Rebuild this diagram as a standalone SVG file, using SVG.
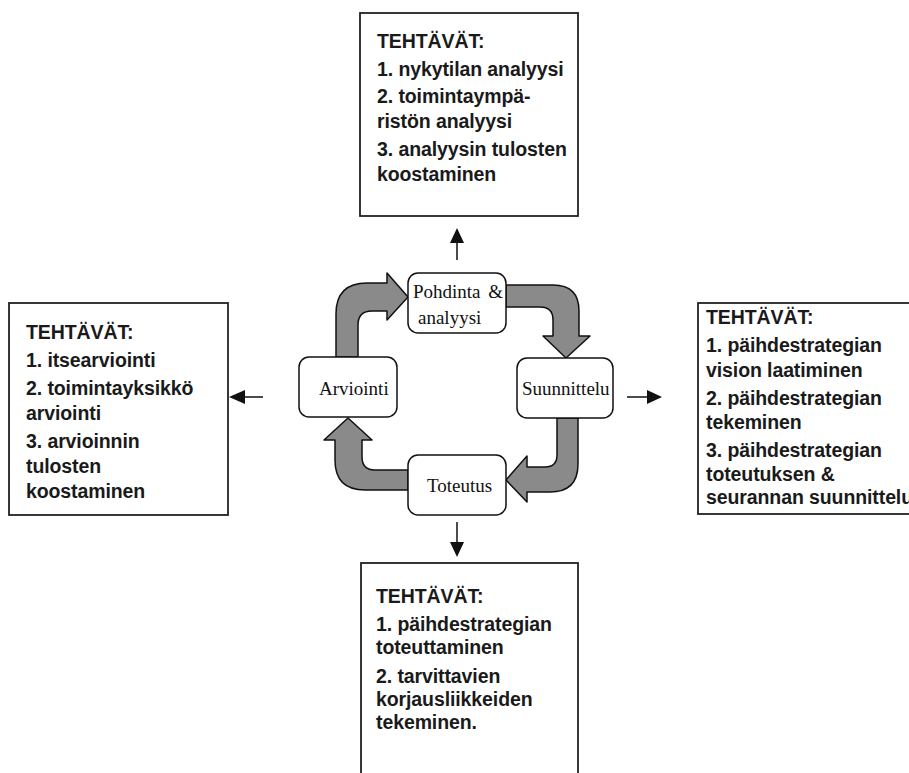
<svg xmlns="http://www.w3.org/2000/svg" width="909" height="773" viewBox="0 0 909 773">
<style>
.box{fill:#fff;stroke:#222;stroke-width:1.8}
.rbox{fill:#fff;stroke:#111;stroke-width:1.5}
.t{font-family:"Liberation Sans",Arial,sans-serif;font-weight:bold;font-size:19.5px;fill:#1a1a1a;letter-spacing:-0.1px}
.s{font-family:"Liberation Serif","Times New Roman",serif;font-size:19px;fill:#111}
.cyc{fill:#8a8a8a;stroke:#111;stroke-width:1.5;stroke-linejoin:round}
.ln{stroke:#111;stroke-width:1.5;fill:none}
.hd{fill:#111}
</style>
<rect width="909" height="773" fill="#fff"/>

<g id="connectors">
  <path class="cyc" d="M336 357 L336 314 Q336 283 367 283 L387 283 L387 273 L408 297 L387 320 L387 311 L372 311 Q358 311 358 325 L358 357 Z"/>
  <path class="cyc" d="M506 285 L553 285 Q579 285 579 311 L579 336 L590 336 L566 358 L543 336 L553 336 L553 320 Q553 307 540 307 L506 307 Z"/>
  <path class="cyc" d="M557 418 L578 418 L578 464 Q578 492 550 492 L527 492 L527 502 L506 480 L527 456 L527 467 L545 467 Q557 467 557 455 Z"/>
  <path class="cyc" d="M408 470 L375 470 Q362 470 362 457 L362 440 L372 440 L348 418 L324 440 L335 440 L335 460 Q335 490 365 490 L408 490 Z"/>
  <line class="ln" x1="457" y1="260" x2="457" y2="242"/>
  <polygon class="hd" points="457,228 450,243 464,243"/>
  <line class="ln" x1="263" y1="397" x2="244" y2="397"/>
  <polygon class="hd" points="229,397 245,390 245,404"/>
  <line class="ln" x1="627" y1="397" x2="648" y2="397"/>
  <polygon class="hd" points="662,397 647,390 647,404"/>
  <line class="ln" x1="457" y1="522" x2="457" y2="543"/>
  <polygon class="hd" points="457,557 450,542 464,542"/>
</g>

<g id="pohdinta">
  <rect class="rbox" x="408" y="273" width="98" height="60" rx="10"/>
  <text class="s" x="413" y="298" word-spacing="3">Pohdinta &amp;</text>
  <text class="s" x="418" y="324">analyysi</text>
</g>
<g id="suunnittelu">
  <rect class="rbox" x="517" y="358" width="96" height="60" rx="10"/>
  <text class="s" x="522" y="395">Suunnittelu</text>
</g>
<g id="toteutus">
  <rect class="rbox" x="408" y="455" width="98" height="60" rx="10"/>
  <text class="s" x="427" y="492">Toteutus</text>
</g>
<g id="arviointi">
  <rect class="rbox" x="299" y="357" width="98" height="60" rx="10"/>
  <text class="s" x="319" y="395">Arviointi</text>
</g>

<g id="tasks-top">
  <rect class="box" x="360" y="13" width="218" height="203"/>
  <text class="t" x="377" y="48">TEHTÄVÄT:</text>
  <text class="t" x="377" y="76">1. nykytilan analyysi</text>
  <text class="t" x="377" y="103">2. toimintaympä-</text>
  <text class="t" x="377" y="128">ristön analyysi</text>
  <text class="t" x="377" y="156">3. analyysin tulosten</text>
  <text class="t" x="377" y="181">koostaminen</text>
</g>
<g id="tasks-left">
  <rect class="box" x="9" y="303" width="219" height="212"/>
  <text class="t" x="26" y="339">TEHTÄVÄT:</text>
  <text class="t" x="26" y="367">1. itsearviointi</text>
  <text class="t" x="26" y="395">2. toimintayksikkö</text>
  <text class="t" x="26" y="420">arviointi</text>
  <text class="t" x="26" y="448">3. arvioinnin</text>
  <text class="t" x="26" y="473">tulosten</text>
  <text class="t" x="26" y="498">koostaminen</text>
</g>
<g id="tasks-right">
  <rect class="box" x="698" y="303" width="230" height="211"/>
  <text class="t" x="706" y="324">TEHTÄVÄT:</text>
  <text class="t" x="706" y="352">1. päihdestrategian</text>
  <text class="t" x="706" y="377">vision laatiminen</text>
  <text class="t" x="706" y="405">2. päihdestrategian</text>
  <text class="t" x="706" y="429">tekeminen</text>
  <text class="t" x="706" y="457">3. päihdestrategian</text>
  <text class="t" x="706" y="481">toteutuksen &amp;</text>
  <text class="t" x="706" y="504">seurannan suunnittelu</text>
</g>
<g id="tasks-bottom">
  <rect class="box" x="361" y="563" width="217" height="230"/>
  <text class="t" x="376" y="603">TEHTÄVÄT:</text>
  <text class="t" x="376" y="631">1. päihdestrategian</text>
  <text class="t" x="376" y="654">toteuttaminen</text>
  <text class="t" x="376" y="683">2. tarvittavien</text>
  <text class="t" x="376" y="706">korjausliikkeiden</text>
  <text class="t" x="376" y="729">tekeminen.</text>
</g>
</svg>
